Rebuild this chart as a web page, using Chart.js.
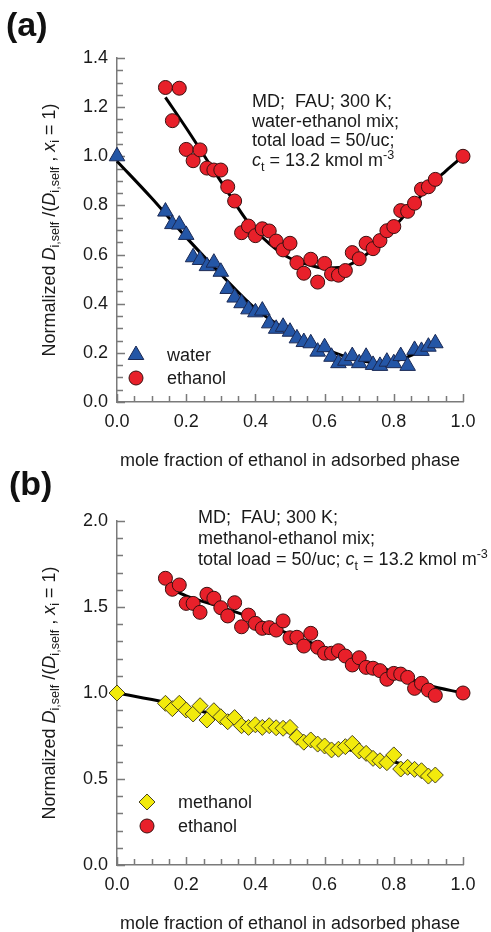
<!DOCTYPE html>
<html>
<head>
<meta charset="utf-8">
<script src="https://cdn.jsdelivr.net/npm/chart.js@4"></script>
<style>
  body { margin: 0; background: #fff; }
  #wrap { position: relative; width: 491px; height: 932px; overflow: hidden;
          font-family: "Liberation Sans", Arial, sans-serif; color: #1a1a1a; font-size: 18px; }
  canvas { position: absolute; left: 0; }
  .t { position: absolute; white-space: nowrap; }
  .mid { transform: translate(-50%, -50%); }
  .ytitle { transform: translate(-50%, -50%) rotate(-90deg); }
  .panel { font-weight: bold; font-size: 34px; color: #111; }
  .note { line-height: 19.5px; }
  sub, sup { font-size: 70%; line-height: 0; }
  .leg { position: absolute; white-space: nowrap; transform: translateY(-50%); }
  svg { position: absolute; overflow: visible; }
</style>
</head>
<body>
<div id="wrap">
  <canvas id="chartA" width="491" height="470" style="top:0"></canvas>
  <canvas id="chartB" width="491" height="467" style="top:465px"></canvas>

  <div class="t panel" style="left:6px;top:5px">(a)</div>
  <div class="t panel" style="left:9px;top:464px">(b)</div>

  <div class="t ytitle" style="left:49px;top:230px">Normalized <i>D</i><sub>i,self</sub> /(<i>D</i><sub>i,self</sub> , <i>x</i><sub>i</sub> = 1)</div>
  <div class="t ytitle" style="left:49px;top:693px">Normalized <i>D</i><sub>i,self</sub> /(<i>D</i><sub>i,self</sub> , <i>x</i><sub>i</sub> = 1)</div>

  <div class="t mid" style="left:290px;top:460px">mole fraction of ethanol in adsorbed phase</div>
  <div class="t mid" style="left:290px;top:923px">mole fraction of ethanol in adsorbed phase</div>

  <div class="t note" style="left:252px;top:92px">MD;&nbsp; FAU; 300 K;<br>water-ethanol mix;<br>total load = 50/uc;<br><i>c</i><sub>t</sub> = 13.2 kmol m<sup>-3</sup></div>
  <div class="t" style="left:198px;top:507px;line-height:21px">MD;&nbsp; FAU; 300 K;<br>methanol-ethanol mix;<br>total load = 50/uc; <i>c</i><sub>t</sub> = 13.2 kmol m<sup>-3</sup></div>

  <!-- legends -->
  <svg style="left:136px;top:355px" width="1" height="1"><polygon points="0,-9 7.8,4.5 -7.8,4.5" fill="#2456a6" stroke="#1b2a55" stroke-width="1"/></svg>
  <div class="leg" style="left:167px;top:355px">water</div>
  <svg style="left:136px;top:378px" width="1" height="1"><circle cx="0" cy="0" r="7" fill="#e8202a" stroke="#3a1010" stroke-width="1"/></svg>
  <div class="leg" style="left:167px;top:378px">ethanol</div>

  <svg style="left:147px;top:802px" width="1" height="1"><polygon points="0,-8 8,0 0,8 -8,0" fill="#f2ea0c" stroke="#4a4520" stroke-width="1"/></svg>
  <div class="leg" style="left:178px;top:802px">methanol</div>
  <svg style="left:147px;top:826px" width="1" height="1"><circle cx="0" cy="0" r="7" fill="#e8202a" stroke="#3a1010" stroke-width="1"/></svg>
  <div class="leg" style="left:178px;top:826px">ethanol</div>
</div>

<script>
// mole fraction of ethanol, shared by the simulated points
const frac = [0.14,0.16,0.18,0.20,0.22,0.24,0.26,0.28,0.30,0.32,0.34,0.36,0.38,0.40,0.42,0.44,0.46,0.48,0.50,0.52,
              0.54,0.56,0.58,0.60,0.62,0.64,0.66,0.68,0.70,0.72,0.74,0.76,0.78,0.80,0.82,0.84,0.86,0.88,0.90,0.92];

// (a) water-ethanol
const waterX = [0.0, ...frac];
const waterY = [1.0, 0.775,0.724,0.722,0.680,0.589,0.578,0.553,0.567,0.530,0.460,0.425,0.402,0.377,0.365,0.372,0.320,0.298,0.306,0.286,0.259,
                0.244,0.239,0.205,0.223,0.184,0.158,0.168,0.187,0.158,0.184,0.151,0.147,0.164,0.158,0.187,0.147,0.212,0.208,0.225,0.239];
const ethAX = [...frac, 1.0];
const ethAY = [1.280,1.145,1.277,1.028,0.982,1.026,0.952,0.944,0.944,0.876,0.818,0.689,0.716,0.677,0.705,0.696,0.655,0.619,0.646,0.567,
               0.524,0.581,0.488,0.564,0.521,0.516,0.535,0.608,0.583,0.646,0.624,0.657,0.697,0.714,0.779,0.776,0.809,0.866,0.876,0.906, 1.0];
const fitWaterX = [0, 0.1, 0.2, 0.3, 0.4, 0.5, 0.6, 0.7, 0.75, 0.8, 0.86, 0.92];
const fitWaterY = [0.98, 0.83, 0.67, 0.52, 0.38, 0.285, 0.215, 0.17, 0.16, 0.165, 0.195, 0.23];
const fitEthAX = [0.14, 0.2, 0.26, 0.32, 0.38, 0.44, 0.5, 0.55, 0.6, 0.65, 0.7, 0.75, 0.8, 0.85, 0.9, 0.95, 1.0];
const fitEthAY = [1.24, 1.115, 0.985, 0.855, 0.73, 0.645, 0.585, 0.56, 0.545, 0.548, 0.58, 0.635, 0.71, 0.79, 0.875, 0.94, 1.0];

// (b) methanol-ethanol
const methX = [0.0, ...frac];
const methY = [1.0, 0.940,0.909,0.940,0.901,0.878,0.926,0.843,0.897,0.862,0.833,0.857,0.810,0.800,0.815,0.800,0.810,0.798,0.795,0.800,0.743,
               0.714,0.727,0.703,0.692,0.669,0.673,0.688,0.707,0.663,0.649,0.620,0.606,0.595,0.640,0.558,0.568,0.556,0.548,0.517,0.523];
const ethBX = [...frac, 1.0];
const ethBY = [1.667,1.603,1.628,1.521,1.521,1.469,1.574,1.551,1.496,1.448,1.525,1.385,1.453,1.405,1.376,1.380,1.366,1.419,1.321,1.324,
               1.273,1.347,1.266,1.231,1.231,1.246,1.215,1.163,1.205,1.149,1.144,1.130,1.080,1.114,1.110,1.091,1.027,1.056,1.017,0.986, 1.0];
const fitMethX = [0, 0.14, 0.3, 0.4, 0.5, 0.6, 0.7, 0.8, 0.92];
const fitMethY = [1.0, 0.945, 0.865, 0.815, 0.77, 0.705, 0.655, 0.6, 0.53];
const fitEthBX = [0.14, 0.2, 0.3, 0.4, 0.5, 0.6, 0.7, 0.8, 0.9, 1.0];
const fitEthBY = [1.62, 1.565, 1.5, 1.43, 1.34, 1.265, 1.195, 1.12, 1.045, 1.0];

const xTicks = [0.0, 0.2, 0.4, 0.6, 0.8, 1.0];
const yTicksA = [0.0, 0.2, 0.4, 0.6, 0.8, 1.0, 1.2, 1.4];
const yTicksB = [0.0, 0.5, 1.0, 1.5, 2.0];

const axisColor = '#7a7a7a';
const font = { family: '"Liberation Sans", Arial, sans-serif', size: 18 };

function pts(xs, ys) {
  return xs.map((x, i) => ({ x: x, y: ys[i] }));
}

// inward major + minor ticks on both axes
const innerTicks = {
  id: 'innerTicks',
  beforeDatasetsDraw(chart, args, opts) {
    const { ctx, chartArea, scales } = chart;
    ctx.save();
    ctx.strokeStyle = axisColor;
    ctx.lineWidth = 1.5;
    ctx.beginPath();
    const nx = Math.round(scales.x.max / opts.xMinor);
    for (let i = 0; i <= nx; i++) {
      const v = i * opts.xMinor;
      const major = Math.abs(v / opts.xMajor - Math.round(v / opts.xMajor)) < 1e-6;
      const px = Math.round(scales.x.getPixelForValue(v)) + 0.5;
      ctx.moveTo(px, chartArea.bottom);
      ctx.lineTo(px, chartArea.bottom - (major ? 8 : 6));
    }
    const ny = Math.round(scales.y.max / opts.yMinor);
    for (let i = 0; i <= ny; i++) {
      const v = i * opts.yMinor;
      const major = Math.abs(v / opts.yMajor - Math.round(v / opts.yMajor)) < 1e-6;
      const py = Math.round(scales.y.getPixelForValue(v)) + 0.5;
      ctx.moveTo(chartArea.left, py);
      ctx.lineTo(chartArea.left + (major ? 8 : 6), py);
    }
    ctx.stroke();
    ctx.restore();
  }
};

function markerSet(data, style, radius, fill, border) {
  return { type: 'scatter', data: data, pointStyle: style, pointRadius: radius, pointHoverRadius: radius,
           backgroundColor: fill, borderColor: border, borderWidth: 1, showLine: false, clip: false, order: 1 };
}
function fitSet(data) {
  return { type: 'line', data: data, borderColor: '#000', borderWidth: 3, pointRadius: 0,
           cubicInterpolationMode: 'monotone', fill: false, clip: false, order: 2 };
}

function makeChart(id, datasets, yMax, yTicks, yMajor, yMinor, pad, xHeight) {
  return new Chart(document.getElementById(id), {
    type: 'scatter',
    data: { datasets: datasets },
    options: {
      responsive: false,
      animation: false,
      layout: { padding: { left: 0, right: 28, top: pad, bottom: 0 } },
      plugins: {
        legend: { display: false },
        tooltip: { enabled: false },
        innerTicks: { xMajor: 0.2, xMinor: 0.05, yMajor: yMajor, yMinor: yMinor }
      },
      scales: {
        x: {
          type: 'linear', min: 0, max: 1,
          grid: { display: false, drawTicks: false },
          border: { display: true, color: axisColor, width: 1.5 },
          afterBuildTicks: s => { s.ticks = xTicks.map(v => ({ value: v })); },
          afterFit: s => { s.height = xHeight; },
          ticks: { font: font, color: '#1a1a1a', padding: 9, maxRotation: 0, callback: v => v.toFixed(1) }
        },
        y: {
          type: 'linear', min: 0, max: yMax,
          grid: { display: false, drawTicks: false },
          border: { display: true, color: axisColor, width: 1.5 },
          afterBuildTicks: s => { s.ticks = yTicks.map(v => ({ value: v })); },
          afterFit: s => { s.width = 117; },
          ticks: { font: font, color: '#1a1a1a', padding: 9, callback: v => v.toFixed(1) }
        }
      }
    },
    plugins: [innerTicks]
  });
}

makeChart('chartA', [
  markerSet(pts(waterX, waterY), 'triangle', 9, '#2456a6', '#1b2a55'),
  markerSet(pts(ethAX, ethAY), 'circle', 7, '#e8202a', '#3a1010'),
  fitSet(pts(fitWaterX, fitWaterY)),
  fitSet(pts(fitEthAX, fitEthAY))
], 1.4, yTicksA, 0.2, 0.05, 58, 68);

makeChart('chartB', [
  markerSet(pts(methX, methY), 'rectRot', 8, '#f2ea0c', '#4a4520'),
  markerSet(pts(ethBX, ethBY), 'circle', 7, '#e8202a', '#3a1010'),
  fitSet(pts(fitMethX, fitMethY)),
  fitSet(pts(fitEthBX, fitEthBY))
], 2.0, yTicksB, 0.5, 0.1, 56, 67);
</script>
</body>
</html>
